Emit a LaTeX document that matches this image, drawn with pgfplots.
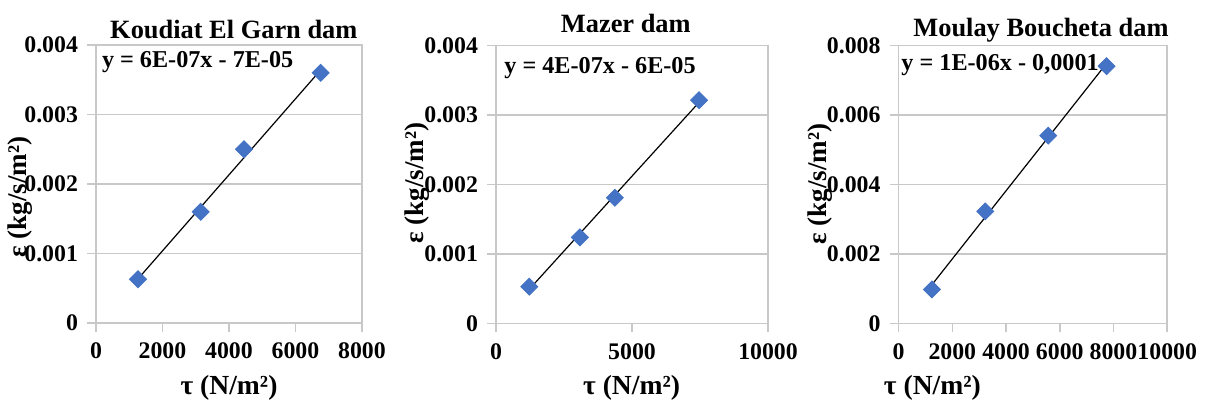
\documentclass[border=0pt]{standalone}
\usepackage{pgfplots}
\pgfplotsset{compat=1.18}
\usepackage{fontspec}
\setmainfont{Liberation Serif}
\definecolor{mkblue}{RGB}{68,114,196}
\definecolor{gridgray}{RGB}{200,200,200}
\newcommand{\tf}{\fontsize{11.9}{14}\selectfont\bfseries}
\pgfplotsset{
  panel/.style={
    scale only axis,
    anchor=south west,
    height=139pt,
    xmin=0, ymin=0,
    axis line style={gridgray, line width=0.8pt},
    ymajorgrids,
    grid style={gridgray, line width=0.8pt},
    tick style={gridgray, line width=0.8pt},
    major tick length=4.5pt,
    tick align=outside,
    xtick pos=bottom, ytick pos=left,
    ticklabel style={font=\tf},
    /pgf/number format/assume math mode=true,
    scaled ticks=false,
    xticklabel style={/pgf/number format/set thousands separator={}, yshift=-2pt},
    yticklabel style={/pgf/number format/fixed, /pgf/number format/precision=3, xshift=-1pt},
    clip=false,
  },
  pts/.style={only marks, mark=square*, mark size=3.0pt, mark options={fill=mkblue, draw=mkblue, rotate=45}},
  fit/.style={black, line width=0.6pt, no marks},
}
\begin{document}
\begin{tikzpicture}[x=1pt,y=1pt]
\path[use as bounding box] (0,0) rectangle (602.5,204);
% Panel 1
\begin{axis}[panel, at={(48pt,42.5pt)}, width=133pt, xmax=8000, ymax=0.004,
  xtick={0,2000,4000,6000,8000}, ytick={0,0.001,0.002,0.003,0.004}]
\addplot[pts] coordinates {(1263,0.00063) (3149,0.0016) (4451,0.0025) (6757,0.0036)};
\addplot[fit] coordinates {(1263,0.000635) (6757,0.00364)};
\end{axis}
% Panel 2
\begin{axis}[panel, at={(248pt,42.35pt)}, width=136pt, xmax=10000, ymax=0.004,
  xtick={0,5000,10000}, ytick={0,0.001,0.002,0.003,0.004}]
\addplot[pts] coordinates {(1224,0.000527) (3084,0.001236) (4370,0.001806) (7466,0.00321)};
\addplot[fit] coordinates {(1224,0.00049) (7466,0.00318)};
\end{axis}
% Panel 3
\begin{axis}[panel, at={(449.3pt,42.35pt)}, width=134.3pt, xmax=10000, ymax=0.008,
  xtick={0,2000,4000,6000,8000,10000}, ytick={0,0.002,0.004,0.006,0.008}]
\addplot[pts] coordinates {(1241,0.000975) (3226,0.00322) (5571,0.0054) (7742,0.0074)};
\addplot[fit] coordinates {(1241,0.00111) (7742,0.00748)};
\end{axis}
% titles
\node[font=\fontsize{13.2}{15}\selectfont\bfseries] at (116.9,189) {Koudiat El Garn dam};
\node[font=\fontsize{13.2}{15}\selectfont\bfseries] at (312.9,192.5) {Mazer dam};
\node[font=\fontsize{13.2}{15}\selectfont\bfseries] at (520.5,189) {Moulay Boucheta dam};
% equations
\node[font=\fontsize{12.1}{14}\selectfont\bfseries, anchor=west, inner sep=0pt] at (50.8,173) {y = 6E-07x - 7E-05};
\node[font=\fontsize{12.1}{14}\selectfont\bfseries, anchor=west, inner sep=0pt] at (252,170) {y = 4E-07x - 6E-05};
\node[font=\fontsize{12.1}{14}\selectfont\bfseries, anchor=west, inner sep=0pt] at (450.5,171.5) {y = 1E-06x - 0,0001};
% y labels
\node[font=\fontsize{13.5}{15}\selectfont\bfseries, rotate=90] at (10,105.5) {ε (kg/s/m²)};
\node[font=\fontsize{13.5}{15}\selectfont\bfseries, rotate=90] at (208.5,112.5) {ε (kg/s/m²)};
\node[font=\fontsize{13.5}{15}\selectfont\bfseries, rotate=90] at (410,112) {ε (kg/s/m²)};
% x labels
\node[font=\fontsize{13.8}{15}\selectfont\bfseries] at (114.5,10) {τ (N/m²)};
\node[font=\fontsize{13.8}{15}\selectfont\bfseries] at (315.8,10) {τ (N/m²)};
\node[font=\fontsize{13.8}{15}\selectfont\bfseries] at (466.2,10) {τ (N/m²)};
\end{tikzpicture}
\end{document}
